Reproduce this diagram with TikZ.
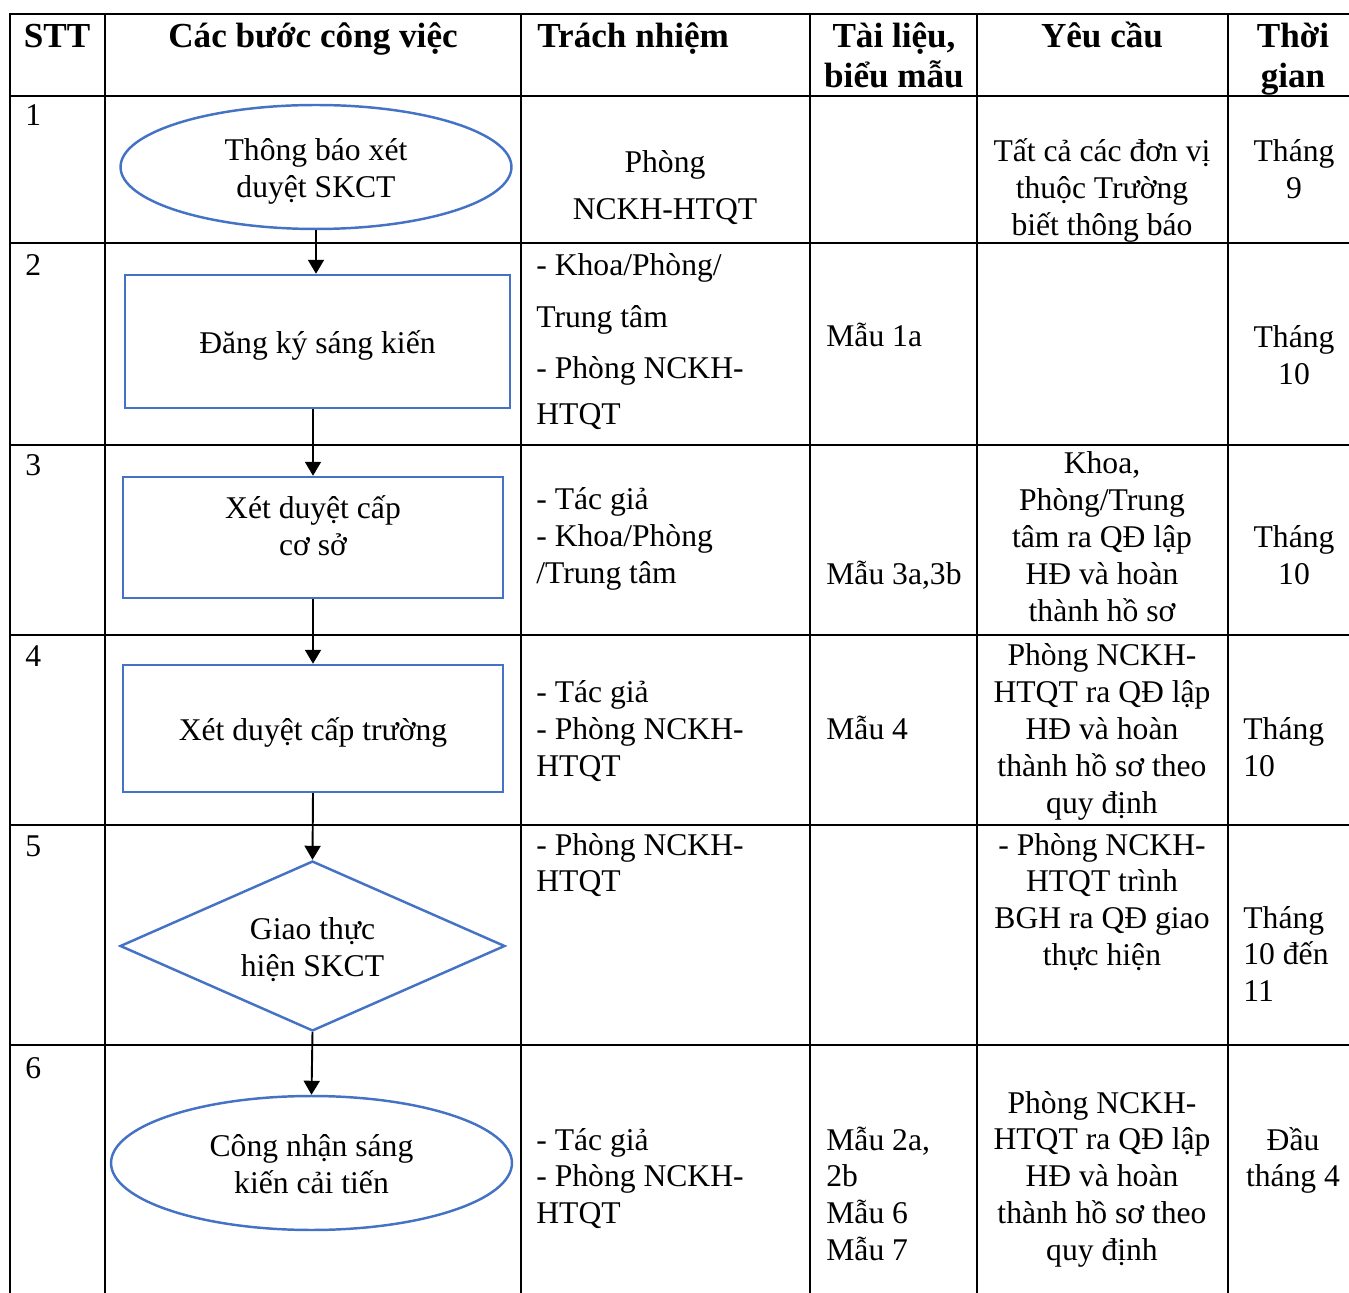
\documentclass[tikz,border=0pt]{standalone}
\usepackage{fontspec}
\setmainfont{Liberation Serif}
\usetikzlibrary{shapes.geometric,arrows.meta}

\definecolor{shapeblue}{HTML}{4472C4}

\tikzset{
  tableline/.style={line width=1.5pt},
  celltext/.style={inner sep=0pt,font=\fontsize{18}{21}\selectfont},
  headtext/.style={inner sep=0pt,font=\fontsize{20}{22.5}\selectfont\bfseries},
  leftcell/.style={celltext,anchor=base west,text width=#1,align=flush left},
  midcell/.style={celltext,anchor=base,text width=#1,align=flush center},
  stepbox/.style={draw=shapeblue,line width=1.4pt,rectangle,inner sep=0pt,text width=6cm,align=flush center,font=\fontsize{18}{21}\selectfont},
  stepoval/.style={stepbox,ellipse,text width=4.5cm},
  stepdiamond/.style={stepbox,diamond,aspect=2.26,text width=4.5cm},
  oneline/.style={text height=15pt,text depth=1pt},
  twoline/.style={text height=13pt,text depth=20pt},
  flow/.style={line width=1.1pt,-{Triangle[length=0.28cm,width=0.32cm]}}
}

\begin{document}
\begin{tikzpicture}[x=0.02cm,y=-0.02cm]
\useasboundingbox (0,0) rectangle (1349,1293);

% table rules
\draw[tableline] (1355,14)--(10,14)--(10,1300);
\draw[tableline] (10,96)--(1355,96);
\draw[tableline] (10,243)--(1355,243);
\draw[tableline] (10,445)--(1355,445);
\draw[tableline] (10,635)--(1355,635);
\draw[tableline] (10,825)--(1355,825);
\draw[tableline] (10,1045)--(1355,1045);
\draw[tableline] (105,14)--(105,1300);
\draw[tableline] (521,14)--(521,1300);
\draw[tableline] (810,14)--(810,1300);
\draw[tableline] (977,14)--(977,1300);
\draw[tableline] (1228,14)--(1228,1300);

% header
\node[headtext,anchor=base] (hstt) at (57,48) {STT};
\node[headtext,anchor=base] (hstep) at (313,48) {Các bước công việc};
\node[headtext,anchor=base west] (hresp) at (537,48) {Trách nhiệm};
\node[headtext,anchor=base,text width=4cm,align=flush center] (hdoc) at (894,48) {Tài liệu,\\biểu mẫu};
\node[headtext,anchor=base] (hreq) at (1102,48) {Yêu cầu};
\node[headtext,anchor=base,text width=3cm,align=flush center] (htime) at (1293,48) {Thời\\gian};

% row 1
\node[celltext,anchor=base west] (n1) at (25,126) {1};
\node[stepoval,twoline,minimum width=7.82cm,minimum height=2.48cm] (e1) at (316,167) {Thông báo xét\\duyệt SKCT};
\node[midcell=5cm] (r1resp) at (665,173) {Phòng\\[5.7pt]NCKH-HTQT};
\node[midcell=4.8cm] (r1req) at (1102,162) {Tất cả các đơn vị\\thuộc Trường\\biết thông báo};
\node[midcell=2.4cm] (r1time) at (1294,162) {Tháng\\9};

% row 2
\node[celltext,anchor=base west] (n2) at (25,276) {2};
\node[stepbox,oneline,minimum width=7.7cm,minimum height=2.66cm] (b2) at (317.5,341.5) {Đăng ký sáng kiến};
\node[leftcell=5.4cm] (r2resp) at (536,276) {- Khoa/Phòng/\\[8.5pt]Trung tâm\\[8pt]- Phòng NCKH-\\[5pt]HTQT};
\node[celltext,anchor=base west] (r2doc) at (826,347) {Mẫu 1a};
\node[midcell=2.4cm] (r2time) at (1294,348) {Tháng\\10};

% row 3
\node[celltext,anchor=base west] (n3) at (25,476) {3};
\node[stepbox,text height=4pt,text depth=26pt,minimum width=7.6cm,minimum height=2.42cm] (b3) at (313,537.5) {Xét duyệt cấp\\cơ sở};
\node[leftcell=5.4cm] (r3resp) at (536,510) {- Tác giả\\- Khoa/Phòng\\/Trung tâm};
\node[celltext,anchor=base west] (r3doc) at (826,585) {Mẫu 3a,3b};
\node[midcell=4.8cm] (r3req) at (1102,474) {Khoa,\\Phòng/Trung\\tâm ra QĐ lập\\HĐ và hoàn\\thành hồ sơ};
\node[midcell=2.4cm] (r3time) at (1294,548) {Tháng\\10};

% row 4
\node[celltext,anchor=base west] (n4) at (25,667) {4};
\node[stepbox,oneline,minimum width=7.6cm,minimum height=2.54cm] (b4) at (313,728.5) {Xét duyệt cấp trường};
\node[leftcell=5.4cm] (r4resp) at (536,703) {- Tác giả\\- Phòng NCKH-\\HTQT};
\node[celltext,anchor=base west] (r4doc) at (826,740) {Mẫu 4};
\node[midcell=4.8cm] (r4req) at (1102,666) {Phòng NCKH-\\HTQT ra QĐ lập\\HĐ và hoàn\\thành hồ sơ theo\\quy định};
\node[leftcell=2.2cm] (r4time) at (1243,740) {Tháng\\10};

% row 5
\node[celltext,anchor=base west] (n5) at (25,856) {5};
\node[stepdiamond,twoline,minimum width=7.7cm,minimum height=3.4cm] (d5) at (312.5,946) {Giao thực\\hiện SKCT};
\node[leftcell=5.4cm] (r5resp) at (536,855) {- Phòng NCKH-\\HTQT};
\node[midcell=4.8cm] (r5req) at (1102,855) {- Phòng NCKH-\\HTQT trình\\BGH ra QĐ giao\\thực hiện};
\node[leftcell=2.2cm] (r5time) at (1243,928) {Tháng\\10 đến\\11};

% row 6
\node[celltext,anchor=base west] (n6) at (25,1078) {6};
\node[stepoval,twoline,minimum width=8.02cm,minimum height=2.68cm] (e6) at (311.5,1163) {Công nhận sáng\\kiến cải tiến};
\node[leftcell=5.4cm] (r6resp) at (536,1150) {- Tác giả\\- Phòng NCKH-\\HTQT};
\node[leftcell=3cm] (r6doc) at (826,1150) {Mẫu 2a,\\2b\\Mẫu 6\\Mẫu 7};
\node[midcell=4.8cm] (r6req) at (1102,1113) {Phòng NCKH-\\HTQT ra QĐ lập\\HĐ và hoàn\\thành hồ sơ theo\\quy định};
\node[midcell=2.4cm] (r6time) at (1293,1150) {Đầu\\tháng 4};

% flow
\draw[flow] (e1.south) -- (e1.south |- b2.north);
\draw[flow] (b2.south -| b3.north) -- (b3.north);
\draw[flow] (b3.south) -- (b4.north);
\draw[flow] (b4.south) -- (d5.north);
\draw[flow] (d5.south) -- (e6.north);
\end{tikzpicture}
\end{document}
